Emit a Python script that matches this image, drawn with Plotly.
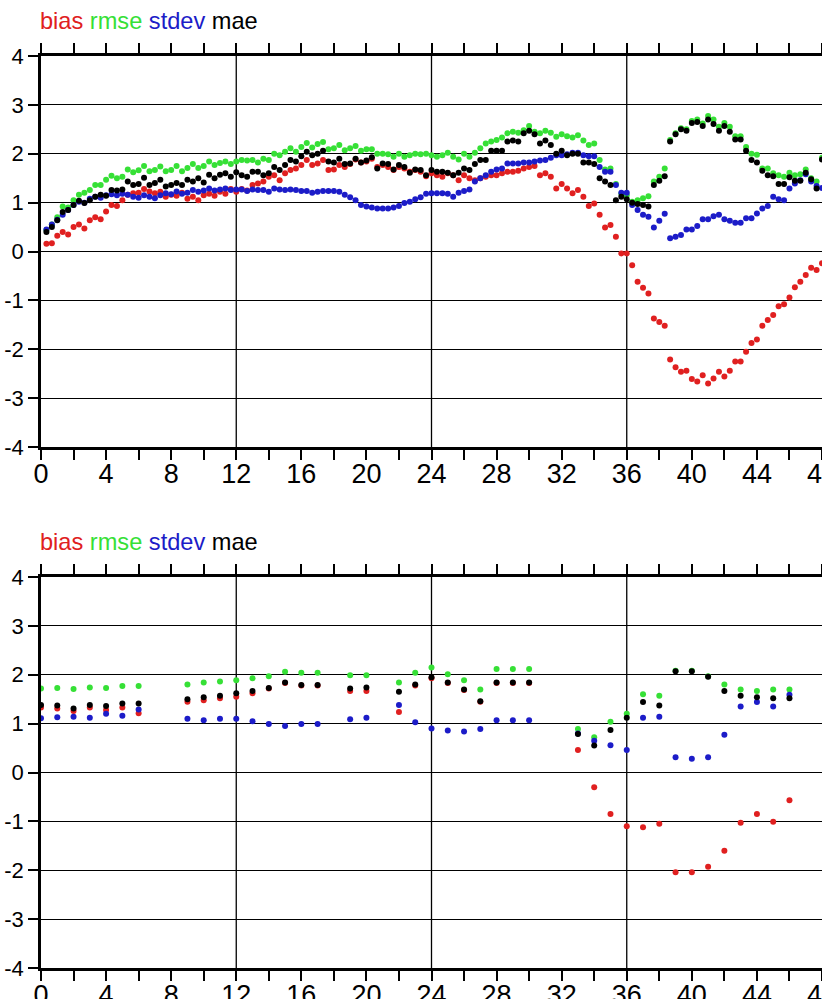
import plotly.graph_objects as go

# ---------------- data ----------------
# top panel: 20-minute samples, lead time in hours
hours_top = [round(i / 3, 3) for i in range(1, 145)]

top_bias = [0.16,0.17,0.32,0.40,0.35,0.50,0.55,0.47,0.64,0.70,0.66,0.82,
            0.95,0.93,1.05,1.16,1.19,1.20,1.28,1.23,1.19,1.22,1.12,1.16,
            1.14,1.20,1.08,1.12,1.05,1.15,1.18,1.14,1.22,1.18,1.28,1.22,
            1.28,1.25,1.36,1.39,1.43,1.53,1.56,1.46,1.60,1.67,1.70,1.77,
            1.87,1.77,1.80,1.87,1.67,1.68,1.77,1.73,1.79,1.88,1.82,1.84,
            1.90,1.73,1.77,1.73,1.67,1.73,1.70,1.63,1.67,1.63,1.54,1.60,
            1.56,1.53,1.60,1.56,1.46,1.56,1.50,1.46,1.50,1.53,1.56,1.56,
            1.60,1.63,1.63,1.65,1.70,1.73,1.75,1.56,1.60,1.53,1.29,1.38,
            1.29,1.19,1.26,1.12,0.93,0.98,0.75,0.49,0.54,0.30,
            -0.04,-0.04,-0.28,-0.62,-0.74,-0.86,-1.37,-1.44,-1.52,-2.21,
            -2.37,-2.46,-2.44,-2.61,-2.66,-2.53,-2.70,-2.60,-2.46,-2.56,
            -2.44,-2.25,-2.25,-2.05,-1.87,-1.80,-1.52,-1.40,-1.30,-1.12,
            -1.08,-0.94,-0.73,-0.62,-0.48,-0.33,-0.38,-0.24]

top_rmse = [0.44,0.55,0.70,0.92,0.90,1.05,1.16,1.20,1.26,1.36,1.36,1.47,
            1.55,1.50,1.53,1.68,1.62,1.66,1.75,1.64,1.67,1.74,1.64,1.67,
            1.75,1.64,1.71,1.79,1.71,1.75,1.84,1.77,1.81,1.84,1.79,1.84,
            1.87,1.86,1.87,1.82,1.90,1.87,2.00,1.97,2.04,2.11,2.04,2.14,
            2.22,2.13,2.20,2.24,2.09,2.11,2.18,2.07,2.11,2.16,2.06,2.09,
            2.09,2.00,2.00,1.99,1.94,2.00,1.94,1.97,2.00,1.99,2.00,1.97,
            1.94,1.97,2.02,1.94,1.88,2.00,1.94,2.02,2.11,2.21,2.25,2.28,
            2.33,2.42,2.45,2.43,2.48,2.57,2.45,2.42,2.47,2.43,2.35,2.40,
            2.36,2.33,2.38,2.27,2.18,2.21,1.87,1.68,1.70,1.38,
            1.18,1.15,1.02,1.05,1.09,1.13,1.43,1.53,1.70,2.28,
            2.42,2.52,2.50,2.67,2.70,2.62,2.77,2.70,2.55,2.63,
            2.55,2.36,2.36,2.14,2.00,1.98,1.70,1.70,1.60,1.56,
            1.53,1.61,1.56,1.58,1.68,1.50,1.43,1.92]

top_stdev = [0.45,0.55,0.65,0.75,0.85,0.95,1.02,1.00,1.08,1.12,1.10,1.15,
             1.17,1.15,1.18,1.16,1.12,1.10,1.15,1.12,1.09,1.15,1.19,1.17,
             1.23,1.18,1.20,1.26,1.22,1.25,1.29,1.25,1.27,1.29,1.26,1.27,
             1.27,1.24,1.27,1.26,1.26,1.22,1.29,1.27,1.26,1.27,1.26,1.24,
             1.24,1.20,1.22,1.24,1.24,1.24,1.22,1.16,1.11,1.05,0.95,0.92,
             0.90,0.88,0.88,0.88,0.90,0.93,0.99,1.02,1.07,1.11,1.18,1.19,
             1.19,1.19,1.18,1.12,1.20,1.24,1.27,1.43,1.50,1.56,1.63,1.68,
             1.70,1.80,1.80,1.80,1.82,1.82,1.84,1.86,1.87,1.92,1.97,1.97,
             1.99,2.02,2.02,1.97,1.95,1.95,1.73,1.63,1.63,1.36,
             1.20,1.20,0.95,0.85,0.75,0.71,0.49,0.63,0.77,0.27,
             0.30,0.34,0.45,0.45,0.52,0.66,0.66,0.72,0.75,0.66,
             0.63,0.59,0.59,0.68,0.68,0.78,0.88,0.93,1.12,1.07,
             1.05,1.29,1.39,1.46,1.58,1.43,1.34,1.30]

top_mae = [0.40,0.50,0.64,0.81,0.85,0.95,1.04,0.99,1.05,1.12,1.16,1.14,
           1.26,1.25,1.27,1.43,1.36,1.38,1.51,1.36,1.40,1.47,1.33,1.36,
           1.40,1.36,1.47,1.43,1.50,1.41,1.57,1.50,1.57,1.60,1.53,1.62,
           1.56,1.53,1.63,1.63,1.56,1.60,1.73,1.67,1.77,1.87,1.84,1.95,
           2.04,1.97,2.00,2.06,1.84,1.82,1.90,1.79,1.80,1.90,1.82,1.86,
           1.93,1.70,1.80,1.79,1.68,1.77,1.73,1.61,1.68,1.67,1.56,1.67,
           1.63,1.63,1.61,1.56,1.61,1.70,1.67,1.79,1.87,1.87,2.06,2.06,
           2.06,2.25,2.27,2.25,2.42,2.47,2.40,2.21,2.27,2.18,2.00,2.06,
           1.97,2.00,2.00,1.82,1.82,1.79,1.50,1.43,1.36,1.05,
           1.12,1.07,1.00,0.97,0.95,0.92,1.36,1.45,1.54,2.25,
           2.40,2.50,2.47,2.63,2.65,2.57,2.70,2.61,2.47,2.57,
           2.45,2.29,2.29,2.06,1.87,1.82,1.65,1.56,1.54,1.38,
           1.38,1.52,1.45,1.45,1.61,1.48,1.29,1.88]

# bottom panel: hourly samples with gaps
hours_bot = [0,1,2,3,4,5,6,9,10,11,12,13,14,15,16,17,19,20,22,23,24,25,26,27,
             28,29,30,33,34,35,36,37,38,39,40,41,42,43,44,45,46]
bot_rmse = [1.72,1.73,1.71,1.74,1.73,1.77,1.77,1.80,1.84,1.86,1.89,1.93,1.97,2.06,
            2.04,2.04,1.99,1.99,1.84,2.04,2.15,2.01,1.89,1.70,2.12,2.12,2.12,0.89,
            0.72,1.04,1.20,1.60,1.57,2.08,2.08,1.97,1.80,1.70,1.67,1.70,1.70]
bot_mae = [1.38,1.37,1.31,1.38,1.36,1.41,1.41,1.50,1.54,1.57,1.62,1.67,1.73,1.84,
           1.79,1.79,1.72,1.74,1.65,1.80,1.95,1.84,1.70,1.46,1.84,1.84,1.84,0.79,
           0.55,0.87,1.12,1.44,1.37,2.07,2.07,1.96,1.67,1.57,1.54,1.52,1.52]
bot_bias = [1.33,1.31,1.26,1.33,1.28,1.33,1.21,1.45,1.48,1.52,1.55,1.62,1.72,1.83,
            1.78,1.78,1.67,1.67,1.24,1.78,1.93,1.83,1.69,1.45,1.83,1.83,1.83,0.46,
            -0.30,-0.85,-1.10,-1.12,-1.05,-2.04,-2.04,-1.93,-1.60,-1.03,-0.85,-1.01,-0.57]
bot_stdev = [1.11,1.13,1.14,1.12,1.20,1.16,1.29,1.10,1.07,1.10,1.10,1.05,0.99,0.95,
             0.99,0.99,1.09,1.12,1.38,1.03,0.90,0.86,0.84,0.89,1.07,1.07,1.07,0.80,
             0.65,0.56,0.46,1.12,1.14,0.31,0.28,0.31,0.77,1.35,1.44,1.35,1.59]

y_ticks = [-4, -3, -2, -1, 0, 1, 2, 3, 4]
y_labels = ["-4", "-3", "-2", "-1", "0", "1", "2", "3", "4"]
x_grid = [12, 24, 36]
series_names = ["bias", "rmse", "stdev", "mae"]

# ---------------- style ----------------
COLORS = {"bias": "#e02020", "rmse": "#36e036", "stdev": "#1c1cc8", "mae": "#000000"}
FONT = "Liberation Sans, Arial, sans-serif"
W, H = 822, 999

top_data = {"bias": top_bias, "rmse": top_rmse, "stdev": top_stdev, "mae": top_mae}
bot_data = {"bias": bot_bias, "rmse": bot_rmse, "stdev": bot_stdev, "mae": bot_mae}

fig = go.Figure()
for name in series_names:
    fig.add_trace(go.Scatter(x=hours_top, y=top_data[name], mode="markers",
                             marker=dict(size=6, color=COLORS[name]),
                             xaxis="x", yaxis="y", showlegend=False, name=name))
    fig.add_trace(go.Scatter(x=hours_bot, y=bot_data[name], mode="markers",
                             marker=dict(size=6, color=COLORS[name]),
                             xaxis="x2", yaxis="y2", showlegend=False, name=name))

def px_dom(top_px, bot_px):
    return [1 - bot_px / H, 1 - top_px / H]

xax = dict(range=[0, 48], tick0=0, dtick=4, ticks="outside", ticklen=10, tickwidth=1.6,
           tickcolor="black", showline=True, linewidth=2.6, linecolor="black",
           mirror="ticks", showgrid=False, zeroline=False, automargin=False,
           ticklabelstandoff=-9, ticklabeloverflow="allow",
           minor=dict(tick0=0, dtick=2, ticks="outside", ticklen=10, tickwidth=1.6,
                      tickcolor="black", showgrid=False),
           tickfont=dict(family=FONT, size=27, color="black"))
yax = dict(range=[-4, 4], tickmode="array", tickvals=y_ticks, ticktext=y_labels,
           ticks="outside", ticklen=10, tickwidth=1.6, tickcolor="black",
           showline=True, linewidth=2.6, linecolor="black", mirror=False,
           showgrid=True, gridcolor="black", gridwidth=1.3, zeroline=False,
           automargin=False, ticklabelstandoff=0, ticklabeloverflow="allow",
           tickfont=dict(family=FONT, size=22, color="black"))

top_dom = px_dom(56, 447)
bot_dom = px_dom(577, 968)

fig.update_layout(
    width=W, height=H,
    margin=dict(l=41, r=0, t=0, b=0),
    paper_bgcolor="white", plot_bgcolor="white",
    xaxis=dict(**xax, anchor="y"),
    yaxis=dict(**yax, domain=top_dom, anchor="x"),
    xaxis2=dict(**xax, anchor="y2"),
    yaxis2=dict(**yax, domain=bot_dom, anchor="x2"),
)

shapes = []
for xr, yr in (("x", "y"), ("x2", "y2")):
    for g in x_grid:
        shapes.append(dict(type="line", xref=xr, yref=yr, x0=g, x1=g,
                           y0=y_ticks[0], y1=y_ticks[-1], layer="below",
                           line=dict(color="black", width=1.3)))
fig.update_layout(shapes=shapes)

legend_html = " ".join(
    f'<span style="color:{COLORS[n]}">{n}</span>' for n in series_names)
for dom in (top_dom, bot_dom):
    fig.add_annotation(text=legend_html, xref="paper", yref="paper",
                       x=0, y=dom[1] + 35 / H, xanchor="left", yanchor="middle",
                       xshift=-3, showarrow=False,
                       font=dict(family=FONT, size=23.6, color="black"))

fig.write_html("out.html",
               config={"displayModeBar": False},
               post_script="document.body.style.margin='0px';"
                           "document.body.style.overflow='hidden';")
